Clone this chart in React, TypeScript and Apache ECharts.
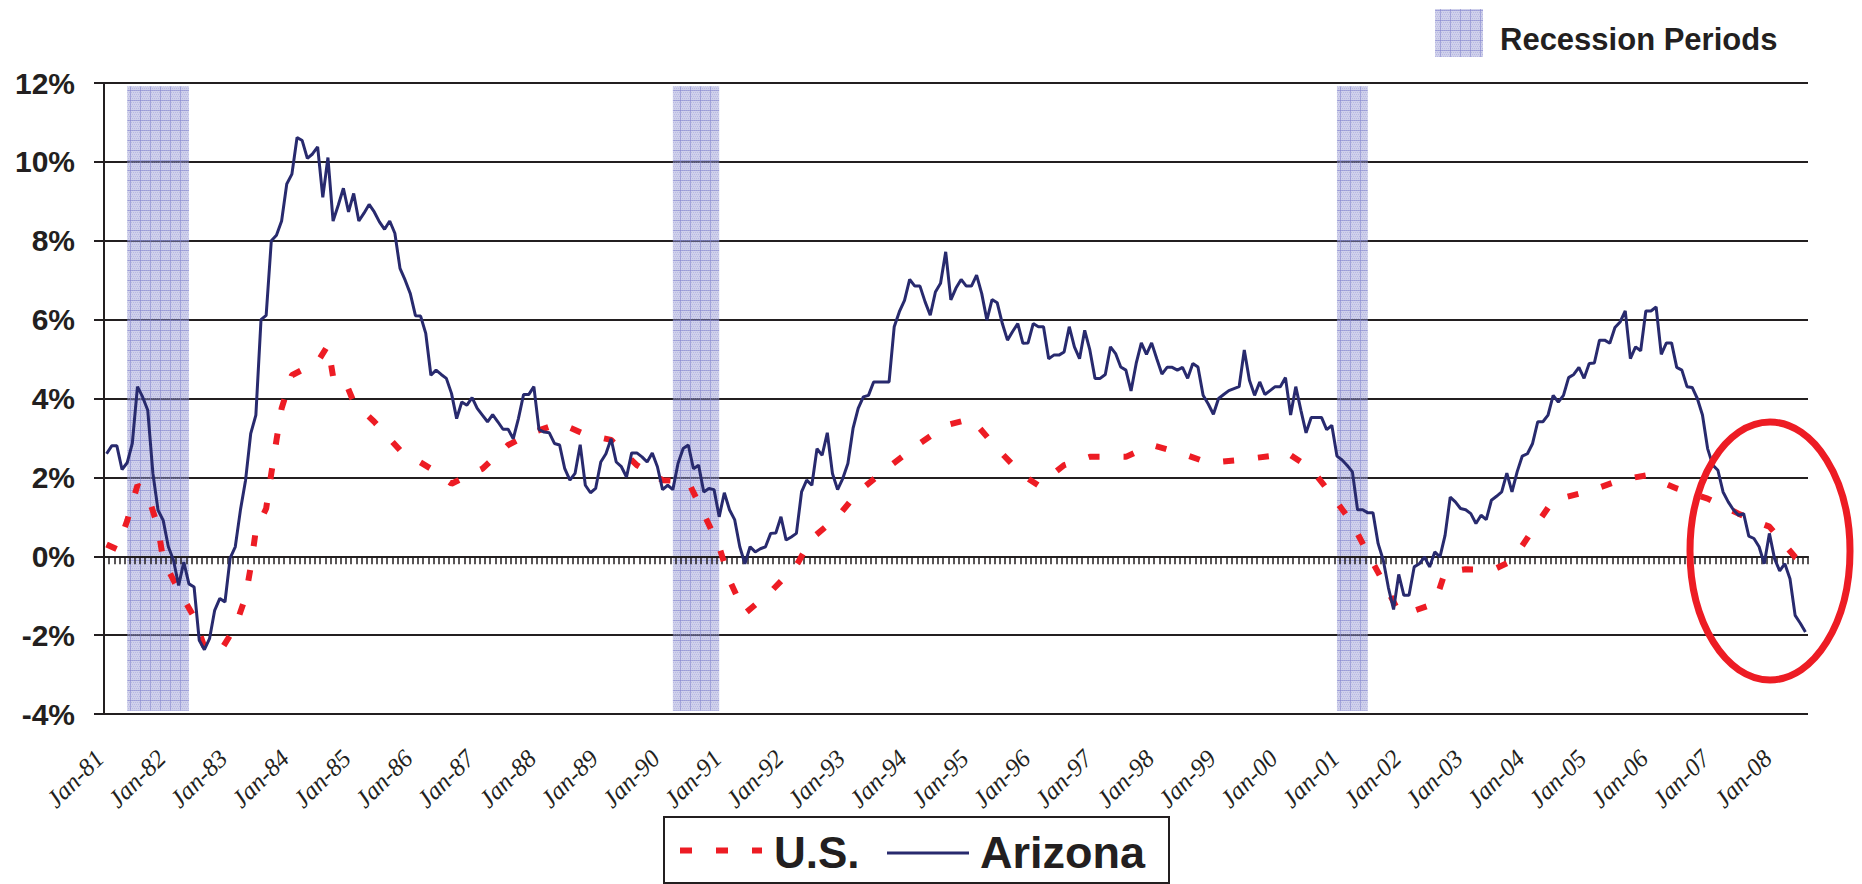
import React, { useEffect, useRef } from "react";
import * as echarts from "echarts";

const MONTH_NAMES = ["Jan", "Feb", "Mar", "Apr", "May", "Jun", "Jul", "Aug", "Sep", "Oct", "Nov", "Dec"];
const START_YEAR = 1981;
const MONTH_COUNT = 331; // Jan-81 .. Jul-08

const categories: string[] = Array.from({ length: MONTH_COUNT }, (_, i) => {
  const yy = (START_YEAR + Math.floor(i / 12)) % 100;
  return `${MONTH_NAMES[i % 12]}-${String(yy).padStart(2, "0")}`;
});

// Arizona, monthly year-over-year change (%)
const arizona: number[] = [
  2.6, 2.8, 2.8, 2.2, 2.37, 2.86, 4.3, 4.04, 3.7, 2.1, 1.17, 0.91,
  0.24, -0.1, -0.74, -0.15, -0.7, -0.78, -2.13, -2.37, -2.09, -1.37, -1.07, -1.16,
  -0.05, 0.24, 1.17, 1.93, 3.11, 3.58, 6.0, 6.11, 8.0, 8.14, 8.5, 9.44,
  9.69, 10.62, 10.54, 10.09, 10.2, 10.38, 9.1, 10.11, 8.5, 8.9, 9.33, 8.73,
  9.2, 8.5, 8.7, 8.92, 8.73, 8.48, 8.29, 8.5, 8.19, 7.3, 7.0, 6.66,
  6.1, 6.09, 5.65, 4.59, 4.72, 4.61, 4.51, 4.13, 3.49, 3.91, 3.83, 4.02,
  3.75, 3.58, 3.41, 3.59, 3.41, 3.22, 3.22, 2.98, 3.49, 4.1, 4.1, 4.3,
  3.21, 3.15, 3.13, 2.86, 2.82, 2.22, 1.93, 2.1, 2.83, 1.8, 1.61, 1.72,
  2.39, 2.6, 2.98, 2.39, 2.27, 2.01, 2.62, 2.62, 2.52, 2.39, 2.62, 2.27,
  1.69, 1.8, 1.69, 2.35, 2.73, 2.82, 2.22, 2.31, 1.63, 1.72, 1.69, 1.0,
  1.61, 1.18, 0.93, 0.24, -0.19, 0.24, 0.11, 0.19, 0.24, 0.58, 0.59, 1.0,
  0.41, 0.49, 0.58, 1.63, 1.93, 1.8, 2.73, 2.56, 3.13, 2.1, 1.69, 1.97,
  2.35, 3.24, 3.75, 4.04, 4.08, 4.42, 4.42, 4.42, 4.42, 5.82, 6.2, 6.49,
  7.02, 6.85, 6.85, 6.45, 6.11, 6.7, 6.92, 7.72, 6.5, 6.8, 7.02, 6.85,
  6.85, 7.13, 6.66, 5.99, 6.51, 6.43, 5.9, 5.48, 5.7, 5.9, 5.4, 5.41,
  5.9, 5.82, 5.82, 5.01, 5.1, 5.1, 5.18, 5.82, 5.31, 5.01, 5.73, 5.23,
  4.51, 4.51, 4.61, 5.31, 5.14, 4.8, 4.72, 4.19, 4.89, 5.41, 5.12, 5.41,
  5.01, 4.62, 4.79, 4.79, 4.72, 4.79, 4.51, 4.89, 4.8, 4.08, 3.86, 3.6,
  4.0, 4.1, 4.2, 4.25, 4.3, 5.23, 4.46, 4.08, 4.42, 4.1, 4.2, 4.3,
  4.3, 4.53, 3.58, 4.3, 3.7, 3.13, 3.52, 3.52, 3.52, 3.21, 3.32, 2.54,
  2.44, 2.3, 2.14, 1.18, 1.18, 1.1, 1.1, 0.32, -0.1, -0.8, -1.35, -0.46,
  -0.99, -0.99, -0.27, -0.19, -0.02, -0.27, 0.11, -0.02, 0.53, 1.5, 1.38, 1.21,
  1.18, 1.08, 0.83, 1.04, 0.93, 1.42, 1.52, 1.63, 2.11, 1.63, 2.14, 2.54,
  2.6, 2.86, 3.41, 3.41, 3.58, 4.08, 3.91, 4.08, 4.53, 4.61, 4.79, 4.51,
  4.89, 4.9, 5.48, 5.48, 5.4, 5.8, 5.94, 6.22, 5.01, 5.31, 5.21, 6.22,
  6.22, 6.32, 5.12, 5.41, 5.41, 4.79, 4.72, 4.3, 4.28, 4.0, 3.58, 2.73,
  2.31, 2.18, 1.63, 1.38, 1.18, 1.04, 1.08, 0.51, 0.45, 0.24, -0.19, 0.58,
  -0.06, -0.37, -0.19, -0.57, -1.5, -1.7, -1.92,
];

// U.S., readings at the months where the dashed line could be read: [month index, %]
const usReadings: [number, number][] = [
  [0, 0.3], [2, 0.18], [4, 0.9], [6, 1.8], [8, 1.55], [10, 0.74], [11, -0.1],
  [14, -0.86], [17, -1.54], [19, -2.3], [22, -2.43], [25, -1.79], [27, -1.03],
  [28, -0.27], [29, 0.66], [31, 1.21], [32, 2.1], [33, 2.94], [34, 3.75], [36, 4.59],
  [41, 4.93], [43, 5.35], [44, 4.55], [46, 4.55], [48, 3.91], [52, 3.41], [57, 2.69],
  [63, 2.22], [67, 1.84], [73, 2.22], [78, 2.82], [83, 3.15], [88, 3.37], [93, 3.09],
  [98, 2.95], [103, 2.31], [108, 1.93], [113, 1.89], [116, 1.08], [119, 0.24],
  [121, -0.6], [124, -1.45], [129, -0.9], [134, -0.23], [137, 0.45], [142, 1.0],
  [146, 1.63], [152, 2.27], [157, 2.77], [163, 3.32], [168, 3.49], [173, 2.73],
  [178, 2.05], [181, 1.8], [186, 2.31], [191, 2.52], [198, 2.52], [203, 2.82],
  [209, 2.6], [214, 2.37], [220, 2.44], [226, 2.54], [229, 2.65], [234, 2.22],
  [238, 1.55], [242, 0.83], [245, 0.07], [248, -0.65], [251, -1.41], [254, -1.38],
  [258, -1.2], [260, -0.4], [264, -0.33], [268, -0.34], [270, -0.3], [273, -0.12],
  [277, 0.66], [281, 1.42], [288, 1.65], [294, 1.93], [299, 2.05], [305, 1.72],
  [311, 1.46], [317, 1.08], [321, 0.85], [323, 0.75], [328, -0.02], [330, -0.2],
];

const recessions: [string, string][] = [
  ["May-81", "May-82"],
  ["Mar-90", "Dec-90"],
  ["Dec-00", "Jun-01"],
];

const Y_MIN = -4;
const Y_MAX = 12;
const Y_STEP = 2;

const INK = "#231F20";
const NAVY = "#282A6E";
const RED = "#ED1C24";
const SANS = '"Liberation Sans", Arial, sans-serif';
const SERIF = '"Liberation Serif", "Times New Roman", serif';

function makePattern() {
  const c = document.createElement("canvas");
  c.width = 10;
  c.height = 10;
  const ctx = c.getContext("2d")!;
  ctx.fillStyle = "rgba(150,152,212,0.46)";
  ctx.fillRect(0, 0, 10, 10);
  ctx.fillStyle = "rgba(140,142,208,0.35)";
  for (let y = 0; y < 10; y += 2) {
    for (let x = (y / 2) % 2; x < 10; x += 2) ctx.fillRect(x, y, 1, 1);
  }
  ctx.fillStyle = "rgba(130,132,205,0.55)";
  ctx.fillRect(0, 0, 10, 1);
  ctx.fillRect(0, 0, 1, 10);
  return { image: c, repeat: "repeat", imageWidth: 10, imageHeight: 10 } as any;
}

export default function App() {
  const ref = useRef<HTMLDivElement>(null);
  useEffect(() => {
    if (!ref.current) return;
    const chart = echarts.init(ref.current, undefined, { renderer: "svg" });
    const pattern = makePattern();
    const pattern2 = makePattern();
    chart.setOption({
      animation: false,
      backgroundColor: "#ffffff",
      grid: { left: 104, right: 54, top: 83, bottom: 170, containLabel: false },
      xAxis: [
        {
          type: "category",
          data: categories,
          boundaryGap: true,
          position: "bottom",
          axisLine: { show: true, onZero: true, lineStyle: { color: INK, width: 2 } },
          axisTick: { show: true, interval: 0, length: 8, inside: false, lineStyle: { color: INK, width: 1.5 } },
          axisLabel: { show: false },
          splitLine: { show: false },
          z: 1,
        },
        {
          type: "category",
          data: categories,
          boundaryGap: true,
          position: "bottom",
          axisLine: { show: false, onZero: false },
          axisTick: { show: false },
          splitLine: { show: false },
          axisLabel: {
            show: true,
            interval: 11,
            rotate: 45,
            margin: 33,
            padding: [0, 10, 0, 0],
            fontFamily: SERIF,
            fontStyle: "italic",
            fontSize: 25,
            color: INK,
          },
        },
      ],
      yAxis: {
        type: "value",
        min: Y_MIN,
        max: Y_MAX,
        interval: Y_STEP,
        axisLine: { show: true, lineStyle: { color: INK, width: 2 } },
        axisTick: { show: true, length: 10, lineStyle: { color: INK, width: 2 } },
        axisLabel: {
          formatter: (v: number) => `${v}%`,
          fontFamily: SANS,
          fontWeight: "bold",
          fontSize: 30,
          color: INK,
          margin: 29,
        },
        splitLine: { show: true, lineStyle: { color: INK, width: 2 } },
      },
      series: [
        {
          name: "U.S.",
          type: "line",
          xAxisIndex: 0,
          data: usReadings,
          showSymbol: false,
          symbol: "none",
          lineStyle: { color: RED, width: 6, type: [11, 24], cap: "butt" },
          z: 2,
          silent: true,
        },
        {
          name: "Arizona",
          type: "line",
          xAxisIndex: 0,
          data: arizona,
          showSymbol: false,
          symbol: "none",
          lineStyle: { color: NAVY, width: 3 },
          z: 3,
          silent: true,
        },
        {
          name: "Recession Periods",
          type: "line",
          xAxisIndex: 0,
          data: arizona,
          showSymbol: false,
          symbol: "none",
          lineStyle: { opacity: 0, width: 0 },
          silent: true,
          z: 5,
          markArea: {
            silent: true,
            itemStyle: { color: pattern, opacity: 1, borderWidth: 0 },
            data: recessions.map(([a, b]) => [
              { xAxis: a, yAxis: -3.92 },
              { xAxis: b, yAxis: 11.92 },
            ]),
          },
        },
      ],
      graphic: [
        {
          type: "rect",
          z: 50,
          shape: { x: 1435, y: 9, width: 48, height: 48 },
          style: { fill: pattern2 },
        },
        {
          type: "text",
          z: 50,
          x: 1500,
          y: 39,
          style: {
            text: "Recession Periods",
            fontFamily: SANS,
            fontWeight: "bold",
            fontSize: 31,
            fill: INK,
            align: "left",
            verticalAlign: "middle",
          },
        },
        {
          type: "ellipse",
          z: 60,
          shape: { cx: 1770, cy: 551, rx: 80, ry: 129 },
          style: { fill: "none", stroke: RED, lineWidth: 7 },
        },
        {
          type: "rect",
          z: 50,
          shape: { x: 664, y: 817, width: 505, height: 66 },
          style: { fill: "#ffffff", stroke: INK, lineWidth: 2 },
        },
        {
          type: "line",
          z: 51,
          shape: { x1: 680, y1: 850.5, x2: 762, y2: 850.5 },
          style: { stroke: RED, lineWidth: 6, lineDash: [12, 24] },
        },
        {
          type: "text",
          z: 51,
          x: 774,
          y: 852.5,
          style: {
            text: "U.S.",
            fontFamily: SANS,
            fontWeight: "bold",
            fontSize: 44,
            fill: INK,
            align: "left",
            verticalAlign: "middle",
          },
        },
        {
          type: "line",
          z: 51,
          shape: { x1: 887, y1: 853, x2: 969, y2: 853 },
          style: { stroke: NAVY, lineWidth: 3 },
        },
        {
          type: "text",
          z: 51,
          x: 980,
          y: 852.5,
          style: {
            text: "Arizona",
            fontFamily: SANS,
            fontWeight: "bold",
            fontSize: 45,
            fill: INK,
            align: "left",
            verticalAlign: "middle",
          },
        },
      ],
    });
    return () => chart.dispose();
  }, []);
  return (
    <div
      ref={ref}
      style={{ position: "absolute", left: 0, top: 0, width: 1862, height: 884, background: "#fff" }}
    />
  );
}
